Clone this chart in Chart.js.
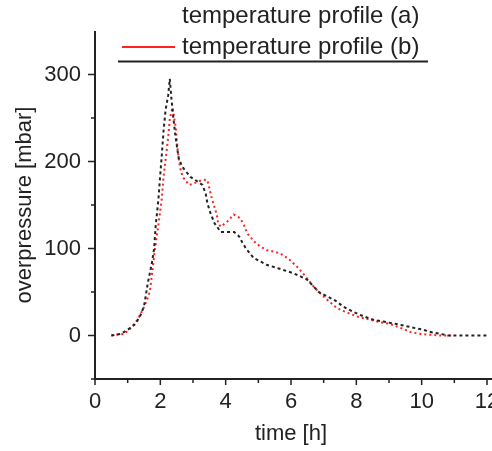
<!DOCTYPE html>
<html>
<head>
<meta charset="utf-8">
<script src="https://cdn.jsdelivr.net/npm/chart.js@4"></script>
<style>
  body { margin: 0; background: #fff; }
  #wrap { width: 492px; height: 451px; position: relative; }
</style>
</head>
<body>
<div id="wrap"><canvas id="myChart"></canvas></div>
<script>
// profile (a) - black
const timeA = [0.5, 0.8, 1.0, 1.2, 1.28, 1.43, 1.51, 1.56, 1.61, 1.68, 1.74, 1.81, 1.86, 1.94, 1.99, 2.04, 2.10, 2.16, 2.24, 2.29,
  2.34, 2.41, 2.47, 2.57, 2.71, 2.93, 3.14, 3.29, 3.39, 3.44, 3.54, 3.66, 3.85, 4.05, 4.26, 4.41, 4.51, 4.62, 4.86, 5.27,
  5.63, 6.04, 6.29, 6.5, 6.85, 7.36, 7.61, 7.92, 8.22, 8.53, 8.83, 9.19, 9.5, 9.8, 10.06, 10.28, 10.56, 10.8, 12.0];
const pressA = [0, 2, 6.5, 12, 16, 26, 36, 47, 59, 72, 83, 100, 127, 156, 181, 205, 236, 259, 276, 295,
  272, 246, 227, 202, 192, 182, 177, 173, 163, 152, 140, 129, 119, 119, 119, 114, 107, 100, 89, 81,
  77, 72, 68, 64, 50, 40, 33, 27, 22, 18, 16, 13.4, 11, 8.5, 6.5, 3.9, 2, 0, 0];

// profile (b) - red
const timeB = [0.5, 0.9, 1.12, 1.32, 1.48, 1.59, 1.68, 1.76, 1.83, 1.91, 1.98, 2.04, 2.10, 2.17, 2.24, 2.29, 2.37, 2.47, 2.53, 2.60,
  2.68, 2.88, 3.1, 3.3, 3.44, 3.56, 3.64, 3.73, 3.77, 3.85, 4.05, 4.25, 4.44, 4.56, 4.66, 4.87, 5.07, 5.27, 5.48, 5.68,
  5.93, 6.24, 6.44, 6.7, 6.85, 7.05, 7.36, 7.51, 7.76, 8.02, 8.43, 8.73, 9.02, 9.19, 9.37, 9.5, 9.67, 9.9, 10.56, 10.97];
const pressB = [0, 2, 9.6, 19, 31, 41, 50.5, 75, 98, 119, 138.5, 156, 182.5, 205, 228, 249, 262, 240, 213, 194,
  182.5, 173, 176, 179, 178.5, 160, 150, 138.5, 129, 125, 131, 139, 135, 127, 117.5, 108, 102, 98, 96.5, 94,
  88, 77, 68, 56, 50, 43, 33, 29.5, 25.7, 21.8, 18, 15.4, 13.4, 11, 8.5, 6.5, 3.9, 2, 0, 0];

const seriesLabels = ['temperature profile (a)', 'temperature profile (b)'];
const xTicks = [0, 2, 4, 6, 8, 10, 12];
const yTicks = [0, 100, 200, 300];

const FONT = "'Liberation Sans', Arial, sans-serif";
const INK = '#222';

const toPoints = (xs, ys) => xs.map((x, i) => ({ x: x, y: ys[i] }));

// axes lines + major/minor tick marks, drawn outward like the original
const axesPlugin = {
  id: 'axes',
  afterDraw(chart) {
    const ctx = chart.ctx;
    const xs = chart.scales.x, ys = chart.scales.y;
    const x0 = xs.getPixelForValue(0);
    const yb = ys.getPixelForValue(-50);
    ctx.save();
    ctx.strokeStyle = INK;
    ctx.lineWidth = 2;
    ctx.beginPath();
    ctx.moveTo(x0, ys.getPixelForValue(350));
    ctx.lineTo(x0, yb + 1);
    ctx.moveTo(x0 - 1, yb);
    ctx.lineTo(chart.width, yb);
    ctx.stroke();
    ctx.lineWidth = 1.5;
    ctx.beginPath();
    for (let v = 0; v <= 12; v++) {
      const px = xs.getPixelForValue(v);
      ctx.moveTo(px, yb);
      ctx.lineTo(px, yb + (v % 2 === 0 ? 6 : 4));
    }
    for (let v = -50; v <= 300; v += 50) {
      const py = ys.getPixelForValue(v);
      ctx.moveTo(x0, py);
      ctx.lineTo(x0 - (v % 100 === 0 ? 7 : 4), py);
    }
    ctx.stroke();
    ctx.restore();
  }
};

// legend in the top part, as in the original figure
const legendPlugin = {
  id: 'topLegend',
  afterDraw(chart) {
    const ctx = chart.ctx;
    const ds = chart.data.datasets;
    ctx.save();
    ctx.font = '24px ' + FONT;
    ctx.fillStyle = INK;
    ctx.textBaseline = 'alphabetic';
    ctx.fillText(ds[0].label, 182, 23);
    ctx.fillText(ds[1].label, 182, 54);
    ctx.strokeStyle = ds[1].borderColor;
    ctx.lineWidth = 2;
    ctx.beginPath();
    ctx.moveTo(122, 47);
    ctx.lineTo(175, 47);
    ctx.stroke();
    ctx.strokeStyle = INK;
    ctx.beginPath();
    ctx.moveTo(118, 61.5);
    ctx.lineTo(428, 61.5);
    ctx.stroke();
    ctx.restore();
  }
};

const ctx = document.getElementById('myChart').getContext('2d');
const myChart = new Chart(ctx, {
  type: 'line',
  data: {
    datasets: [
      {
        label: seriesLabels[0],
        data: toPoints(timeA, pressA),
        borderColor: INK,
        borderWidth: 2,
        borderDash: [3, 3],
        pointRadius: 0,
        fill: false,
      },
      {
        label: seriesLabels[1],
        data: toPoints(timeB, pressB),
        borderColor: '#ff2020',
        borderWidth: 2,
        borderDash: [2, 3],
        pointRadius: 0,
        fill: false,
      },
    ],
  },
  options: {
    responsive: true,
    maintainAspectRatio: false,
    animation: false,
    layout: { padding: { left: 0, right: 5, top: 31, bottom: 0 } },
    plugins: { legend: { display: false }, tooltip: { enabled: false } },
    scales: {
      x: {
        type: 'linear',
        min: 0,
        max: 12,
        grid: { display: false, drawTicks: true, tickLength: 6 },
        border: { display: false },
        afterBuildTicks: (scale) => { scale.ticks = xTicks.map(v => ({ value: v })); },
        ticks: { padding: 4, color: INK, font: { family: FONT, size: 22 }, maxRotation: 0 },
        title: { display: true, text: 'time [h]', color: INK, font: { family: FONT, size: 22 }, padding: { top: 0, bottom: 4 } },
        afterFit: (scale) => { scale.height = 72; scale.paddingLeft = 0; scale.paddingRight = 0; },
      },
      y: {
        min: -50,
        max: 350,
        grid: { display: false, drawTicks: true, tickLength: 8 },
        border: { display: false },
        afterBuildTicks: (scale) => { scale.ticks = yTicks.map(v => ({ value: v })); },
        ticks: { padding: 6, color: INK, font: { family: FONT, size: 22 } },
        title: { display: true, text: 'overpressure [mbar]', color: INK, font: { family: FONT, size: 22 }, padding: { top: 12, bottom: 0 } },
        afterFit: (scale) => { scale.width = 95; scale.paddingTop = 0; scale.paddingBottom = 0; },
      },
    },
  },
  plugins: [axesPlugin, legendPlugin],
});
</script>
</body>
</html>
